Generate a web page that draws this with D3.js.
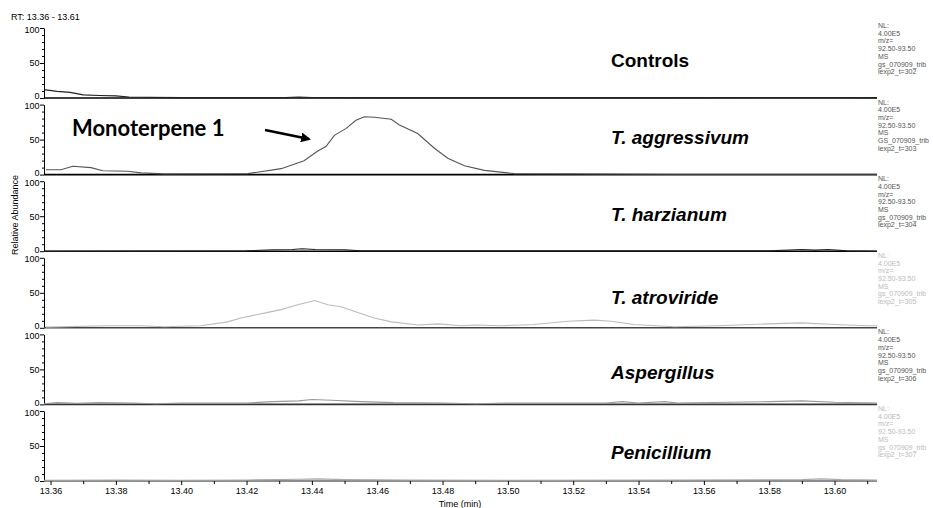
<!DOCTYPE html>
<html><head><meta charset="utf-8">
<script src="https://cdn.jsdelivr.net/npm/d3@7"></script>
<style>
body{margin:0;background:#fff;}
svg{display:block;}
.sm{font-family:"Liberation Sans Narrow","Arial Narrow","Liberation Sans",Arial,sans-serif;}
</style></head>
<body><svg id="c" width="933" height="508"></svg>
<script>
// ---------- data ----------
const panelNames = ["Controls","T. aggressivum","T. harzianum","T. atroviride","Aspergillus","Penicillium"];
const scanIds = ["302","303","304","305","306","307"];
const fileNames = ["gs_070909_trib","GS_070909_trib","gs_070909_trib","gs_070909_trib","gs_070909_trib","gs_070909_trib"];
const xTickLabels = [13.36,13.38,13.40,13.42,13.44,13.46,13.48,13.50,13.52,13.54,13.56,13.58,13.60];
const yTickLabels = [0,50,100];

const controlsT = [13.358,13.362,13.366,13.370,13.375,13.380,13.384,13.390,13.400,13.432,13.436,13.440,13.460,13.500,13.550,13.600,13.613];
const controlsV = [12,9.5,8,4.5,3.5,3,1.5,1,0.5,0.5,1.5,0.8,0.5,0.5,0.5,0.8,0.5];

const aggT = [13.3586,13.3632,13.3668,13.3724,13.376,13.3836,13.3877,13.3947,13.4204,13.4306,13.4376,13.4418,13.4443,13.4469,13.4505,13.4535,13.4561,13.4591,13.4643,13.4668,13.4724,13.4775,13.4816,13.4867,13.4928,13.502,13.55,13.613];
const aggV = [7,7,12,10,5.6,4.7,2.4,1,1.4,8.5,19.7,33.8,40,56,66,77.5,82.6,82,79,71,58.7,37.6,23.5,12.7,6,1.4,0.5,0.5];

const harT = [13.358,13.420,13.428,13.434,13.437,13.441,13.450,13.455,13.580,13.590,13.594,13.598,13.604,13.613];
const harV = [0,0.5,2,2.5,3.5,2.5,2,0.5,0.5,2.5,1.5,2.5,0.5,0];

const atrT = [13.3586,13.3775,13.3877,13.3948,13.406,13.4142,13.4183,13.4265,13.4306,13.4357,13.4408,13.4449,13.4489,13.4541,13.4591,13.4643,13.4724,13.4786,13.4857,13.4898,13.4979,13.508,13.5184,13.5264,13.5316,13.5387,13.5509,13.5643,13.5796,13.5898,13.600,13.6103,13.613];
const atrV = [1,3,3,1.5,3,8.5,14,22,26,33,39,33,30,22,14,8.5,4,5.6,3,4,3,4.7,9.4,11,9.4,4.7,1.4,3,5.6,7,4.7,3,3];

const aspT = [13.358,13.362,13.368,13.375,13.385,13.392,13.400,13.420,13.428,13.436,13.440,13.446,13.455,13.465,13.480,13.490,13.500,13.530,13.535,13.540,13.548,13.552,13.580,13.590,13.600,13.613];
const aspV = [1,2.5,1.5,2.5,2,1,2,2,4,5,7,6,4,2.5,2,1,2,2,4,2,4,2,4,5,3,2];

const penT = [13.358,13.380,13.400,13.420,13.436,13.442,13.450,13.470,13.500,13.550,13.590,13.596,13.602,13.613];
const penV = [1,1.5,1,1.5,2.5,3,2,1.5,1,1.5,2,3,2,1.5];

const seriesT = [controlsT,aggT,harT,atrT,aspT,penT];
const seriesV = [controlsV,aggV,harV,atrV,aspV,penV];

// ---------- style / layout ----------
const traceColors = ["#222","#555","#222","#bbb","#999","#aaa"];
const baseColors = ["#000","#000","#000","#444","#333","#666"];
const infoColors = ["#555","#555","#555","#bbb","#555","#bbb"];
const labelDy = [39,39.5,40,46,45,48];
const labelItalic = [false,true,true,true,true,true];

const svg = d3.select("#c");
const X0 = 44, X1 = 877;
const top0 = 28, pitch = 76.6, ph = 70;
const x = d3.scaleLinear().domain([13.358,13.613]).range([X0,X1]);

panelNames.forEach((name,i)=>{
  const top = top0 + i*pitch;
  const y = d3.scaleLinear().domain([0,100]).range([top+ph, top]);
  const g = svg.append("g");

  // y axis major
  const ax = g.append("g").attr("transform",`translate(${X0},0)`)
    .call(d3.axisLeft(y).tickValues(yTickLabels).tickSize(4).tickSizeOuter(0).tickFormat(d3.format("d")));
  ax.select(".domain").attr("stroke","#000");
  ax.selectAll("text").attr("class","sm").attr("font-size",9).attr("fill","#000").attr("x",-4.5)
    .attr("dy",d=>d===0?"0.1em":(d===100?"0.45em":"0.32em"));
  ax.selectAll("line").attr("stroke","#000");
  // minor
  g.append("g").attr("transform",`translate(${X0},0)`)
    .call(d3.axisLeft(y).tickValues(d3.range(10,100,10).filter(v=>v!==50)).tickSize(2).tickFormat(""))
    .call(s=>s.select(".domain").remove())
    .selectAll("line").attr("stroke","#000");

  // baseline
  g.append("line").attr("x1",X0).attr("x2",X1).attr("y1",y(0)).attr("y2",y(0))
    .attr("stroke",baseColors[i]).attr("stroke-width",1.6);

  // trace
  const pts = seriesT[i].map((t,k)=>[t,seriesV[i][k]]);
  g.append("path").datum(pts)
    .attr("d",d3.line().x(d=>x(d[0])).y(d=>y(d[1])))
    .attr("fill","none").attr("stroke",traceColors[i]).attr("stroke-width",1.1);

  // label
  g.append("text").attr("x",611).attr("y",top+labelDy[i])
    .attr("font-family","'Liberation Sans',Arial,sans-serif").attr("font-weight","bold")
    .attr("font-style",labelItalic[i]?"italic":"normal").attr("font-size",19).attr("fill","#000")
    .text(name);

  // info text
  const info = ["NL:","4.00E5","m/z=","92.50-93.50","MS",fileNames[i],"lexp2_t="+scanIds[i]];
  const it = g.append("text").attr("class","sm").attr("font-size",7).attr("fill",infoColors[i]);
  info.forEach((s,k)=>it.append("tspan").attr("x",878).attr("y",top+k*7.7).text(s));
});

// x axis
const bottom = top0 + 5*pitch + ph;
const xa = svg.append("g").attr("transform",`translate(0,${bottom})`)
  .call(d3.axisBottom(x).tickValues(xTickLabels).tickSize(4).tickFormat(d3.format(".2f")));
xa.select(".domain").remove();
xa.selectAll("line").attr("stroke","#000");
xa.selectAll("text").attr("class","sm").attr("font-size",9).attr("fill","#000").attr("y",7);
svg.append("g").attr("transform",`translate(0,${bottom})`)
  .call(d3.axisBottom(x).tickValues(d3.range(13.37,13.615,0.02)).tickSize(3).tickFormat(""))
  .call(s=>s.select(".domain").remove())
  .selectAll("line").attr("stroke","#000");

// titles
svg.append("text").attr("class","sm").attr("x",11).attr("y",20).attr("font-size",9).text("RT: 13.36 - 13.61");
svg.append("text").attr("class","sm").attr("x",460).attr("y",507).attr("font-size",9)
  .attr("text-anchor","middle").text("Time (min)");
svg.append("text").attr("class","sm").attr("font-size",9).attr("text-anchor","middle")
  .attr("transform","translate(18,215) rotate(-90)").text("Relative Abundance");

// annotation
svg.append("text").attr("x",72).attr("y",136).attr("font-family","Lato,'Open Sans',sans-serif")
  .attr("font-weight","bold").attr("font-size",22).attr("fill","#000").text("Monoterpene 1");
svg.append("defs").append("marker").attr("id","ah").attr("viewBox","0 0 10 10")
  .attr("refX",8).attr("refY",5).attr("markerWidth",4).attr("markerHeight",4).attr("orient","auto")
  .append("path").attr("d","M0,0L10,5L0,10z").attr("fill","#000");
svg.append("line").attr("x1",265).attr("y1",130).attr("x2",309).attr("y2",139)
  .attr("stroke","#000").attr("stroke-width",2.5).attr("marker-end","url(#ah)");
</script></body></html>
